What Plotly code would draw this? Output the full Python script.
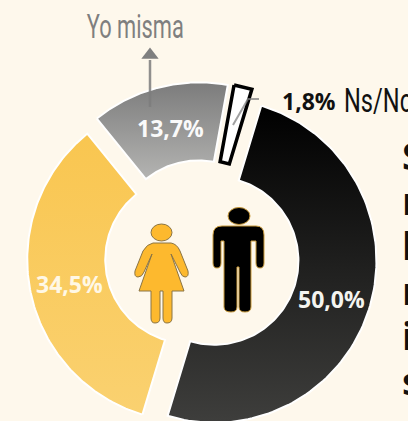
import numpy as np
import plotly.graph_objects as go

labels = ["Hombre", "Mujer", "Yo misma", "Ns/Nc"]
values = [50.0, 34.5, 13.7, 1.8]
text_labels = ["50,0%", "34,5%", "13,7%", "1,8%"]
top_colors = ["#000000", "#F9C650", "#7C7C7C", "#FFFFFF"]
bottom_colors = ["#3E3E3C", "#FAD170", "#B4B4B2", "#FFFFFF"]
edge_colors = ["#FFFFFF", "#FFFFFF", "#FFFFFF", "#000000"]
edge_widths = [2, 2, 2, 3.5]
start_angle = 16.8
cx, cy = 202, 257
pull_px = 13
R_out, R_in = 162, 84
bg = "#FEF8EC"

fig = go.Figure()


def sector(a0, a1, ox, oy):
    t = np.radians(np.linspace(a0, a1, 120))
    xs = np.r_[ox + R_out * np.sin(t), ox + R_in * np.sin(t[::-1])]
    ys = np.r_[oy - R_out * np.cos(t), oy - R_in * np.cos(t[::-1])]
    return np.r_[xs, xs[0]], np.r_[ys, ys[0]]


a = start_angle
for v, tc, bc, ec, ew in zip(values, top_colors, bottom_colors, edge_colors, edge_widths):
    a1 = a + v * 3.6
    mid = np.radians((a + a1) / 2)
    ox, oy = cx + pull_px * np.sin(mid), cy - pull_px * np.cos(mid)
    xs, ys = sector(a, a1, ox, oy)
    fig.add_trace(go.Scatter(
        x=xs, y=ys, mode="lines", fill="toself",
        line=dict(color=ec, width=ew),
        fillgradient=dict(type="vertical", colorscale=[[0, bc], [1, tc]]),
        hoverinfo="skip", showlegend=False,
    ))
    a = a1

# leader lines
fig.add_trace(go.Scatter(x=[233, 248, 259], y=[125, 99, 99], mode="lines",
                         line=dict(color="rgba(130,130,130,0.75)", width=2),
                         hoverinfo="skip", showlegend=False))
fig.add_trace(go.Scatter(x=[150, 150], y=[107, 60], mode="lines",
                         line=dict(color="rgba(125,125,125,0.85)", width=2.5),
                         hoverinfo="skip", showlegend=False))
fig.add_trace(go.Scatter(x=[150], y=[55], mode="markers",
                         marker=dict(symbol="triangle-up", size=15, color="#7F7F7F"),
                         hoverinfo="skip", showlegend=False))

man = ("M 222 226 L 256 226 Q 264 226 264 235 L 264 263 Q 264 268 260 268 Q 256 268 256 263 "
       "L 256 241 L 251 241 L 251 307 Q 251 312 245 312 Q 239 312 239 307 L 239 267 L 237 267 "
       "L 237 307 Q 237 312 231 312 Q 224 312 224 307 L 224 241 L 221 241 L 221 263 "
       "Q 221 268 217 268 Q 213 268 213 263 L 213 235 Q 213 226 222 226 Z")
woman = ("M 153 243 L 171 243 Q 177 244 180 251 L 188 271 Q 189 277 185 277 Q 182 277 180 272 "
         "L 171 254 L 184 291 L 172 291 L 172 318 Q 172 323 167 323 Q 163 323 163 318 L 163 291 "
         "L 160 291 L 160 318 Q 160 323 155 323 Q 151 323 151 318 L 151 291 L 139 291 L 152 254 "
         "L 144 272 Q 142 277 138 277 Q 134 277 135 271 L 143 251 Q 147 244 153 243 Z")
shapes = [
    dict(type="path", path=man, fillcolor="#000000", line=dict(color="#C99A3A", width=1)),
    dict(type="circle", x0=228, x1=250, y0=207.5, y1=224.5, fillcolor="#000000",
         line=dict(color="#C99A3A", width=1)),
    dict(type="path", path=woman, fillcolor="#FDB92E", line=dict(color="#8A7444", width=1)),
    dict(type="circle", x0=151, x1=172, y0=224, y1=241, fillcolor="#FDB92E",
         line=dict(color="#8A7444", width=1)),
]

sans = "Open Sans, Noto Sans, sans-serif"
narrow = "Roboto, sans-serif"
anns = [
    dict(x=331, y=299, text="<b>" + text_labels[0] + "</b>", font=dict(size=23, color="#F4F4F0", family=sans)),
    dict(x=69.5, y=284, text="<b>" + text_labels[1] + "</b>", font=dict(size=23, color="#FFF8E6", family=sans)),
    dict(x=170, y=128, text="<b>" + text_labels[2] + "</b>", font=dict(size=23, color="#FAFAFA", family=sans)),
    dict(x=309, y=101, text="<b>" + text_labels[3] + "</b>", font=dict(size=23, color="#111111", family=sans)),
    dict(x=342, y=100, xanchor="left", text=labels[3], font=dict(size=34, color="#111111", family=narrow)),
    dict(x=135.5, y=26, text=labels[2], font=dict(size=33, color="#7F7F7F", family=narrow)),
]
side_letters = ["S", "r", "l", "r", "i", "s"]
side_y = [155, 200, 245, 290, 335, 380]
for ch, yy in zip(side_letters, side_y):
    anns.append(dict(x=400, y=yy, text="<b>" + ch + "</b>", xanchor="left",
                     font=dict(size=38, color="#111111", family=sans)))
for an in anns:
    an.update(xref="x", yref="y", showarrow=False)

fig.update_layout(
    width=408, height=421, margin=dict(l=0, r=0, t=0, b=0),
    paper_bgcolor=bg, plot_bgcolor=bg, showlegend=False,
    xaxis=dict(range=[0, 408], visible=False, fixedrange=True),
    yaxis=dict(range=[421, 0], visible=False, fixedrange=True),
    shapes=shapes, annotations=anns,
)
post = """
document.body.style.margin='0';
document.body.style.background='%s';
document.documentElement.style.overflow='hidden';
var widths={'Yo misma':97,'Ns/Nc':68};
document.querySelectorAll('.annotation-text').forEach(function(t){
  var s=t.textContent, w=widths[s];
  if(w){
    var b=t.getBBox();
    var x=(s==='Yo misma')?b.x+(b.width-w)/2:b.x;
    t.setAttribute('text-anchor','start');
    t.setAttribute('x',x);
    t.setAttribute('textLength',w);
    t.setAttribute('lengthAdjust','spacingAndGlyphs');
  }
});
""" % bg
fig.write_html("out.html", config={"displayModeBar": False}, post_script=post)
